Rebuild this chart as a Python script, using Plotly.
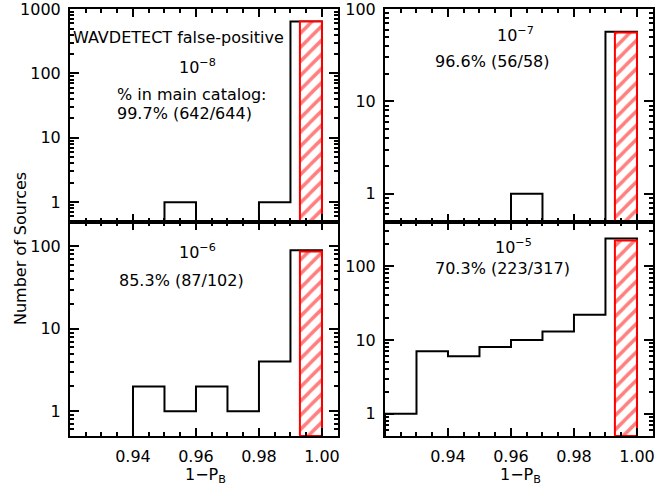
import numpy as np
import plotly.graph_objects as go

# ---------------- data ----------------
bin_edges = [0.92, 0.93, 0.94, 0.95, 0.96, 0.97, 0.98, 0.99, 1.00]
counts_tl = [0, 0, 0, 1, 0, 0, 1, 642]      # 1e-8
counts_tr = [0, 0, 0, 0, 1, 0, 0, 57]       # 1e-7
counts_bl = [0, 0, 2, 1, 2, 1, 4, 90]       # 1e-6
counts_br = [1, 7, 6, 8, 10, 13, 22, 237]   # 1e-5
matched = [642, 56, 87, 223]
matched_lo, matched_hi = 0.993, 1.000
thresholds = ["10<sup>\u22128</sup>", "10<sup>\u22127</sup>", "10<sup>\u22126</sup>", "10<sup>\u22125</sup>"]
fractions = ["99.7% (642/644)", "96.6% (56/58)", "85.3% (87/102)", "70.3% (223/317)"]
x_ticks = [0.94, 0.96, 0.98, 1.00]
x_ticktext = ["0.94", "0.96", "0.98", "1.00"]
y_ticks = [1, 10, 100, 1000]
y_ticktext = ["1", "10", "100", "1000"]
y_min = 0.5
y_max = [1000, 100, 200, 400]
x_range = [0.92, 1.005]

W, H = 670, 486
FONT = "DejaVu Sans"
FS = 16

# panel geometry (pixels)
xl = [70, 337.7]
xr = [385, 652.7]
yt = [9, 221.5]
yb = [221.5, 436]


def px2x(p):
    return p / W


def px2y(p):
    return 1 - p / H


panels = [
    dict(counts=counts_tl, xd=xl, yd=yt, bottom=False),
    dict(counts=counts_tr, xd=xr, yd=yt, bottom=False),
    dict(counts=counts_bl, xd=xl, yd=yb, bottom=True),
    dict(counts=counts_br, xd=xr, yd=yb, bottom=True),
]

fig = go.Figure()
floor = 1e-3
x_minor = list(np.round(np.arange(0.92, 1.0051, 0.005), 4))

for i, p in enumerate(panels):
    sfx = "" if i == 0 else str(i + 1)
    xa, ya = "x" + sfx, "y" + sfx
    # step histogram
    sx, sy = [bin_edges[0]], [floor]
    for k, c in enumerate(p["counts"]):
        v = c if c > 0 else floor
        sx += [bin_edges[k], bin_edges[k + 1]]
        sy += [v, v]
    sx.append(bin_edges[-1])
    sy.append(floor)
    fig.add_trace(go.Scatter(x=sx, y=sy, mode="lines", line=dict(color="black", width=2),
                             xaxis=xa, yaxis=ya, showlegend=False, hoverinfo="skip"))
    # matched (hatched) bar
    h = matched[i]
    fig.add_trace(go.Scatter(
        x=[matched_lo, matched_lo, matched_hi, matched_hi, matched_lo],
        y=[y_min, h, h, y_min, y_min],
        mode="lines", fill="toself", fillcolor="white",
        fillpattern=dict(shape="/", fgcolor="#ff0000", bgcolor="white", size=10, solidity=0.35),
        line=dict(color="red", width=2),
        xaxis=xa, yaxis=ya, showlegend=False, hoverinfo="skip"))

    ymax = y_max[i]
    y_minor = [m * 10 ** e for e in range(-1, 4) for m in range(2, 10) if y_min <= m * 10 ** e <= ymax]
    fig.update_layout(**{
        "xaxis" + sfx: dict(
            domain=[px2x(p["xd"][0]), px2x(p["xd"][1])], range=x_range, anchor=ya,
            showline=True, linecolor="black", linewidth=2, mirror="allticks",
            ticks="inside", ticklen=8, tickwidth=1.5, tickcolor="black",
            tickmode="array", tickvals=x_ticks, ticktext=x_ticktext,
            showticklabels=p["bottom"], ticklabelstandoff=5, automargin=False,
            ticklabeloverflow="allow",
            minor=dict(tickmode="array", tickvals=x_minor, ticks="inside", ticklen=4,
                       tickwidth=1.5, tickcolor="black", showgrid=False),
            showgrid=False, zeroline=False,
            tickfont=dict(family=FONT, size=FS, color="black")),
        "yaxis" + sfx: dict(
            domain=[px2y(p["yd"][1]), px2y(p["yd"][0])], type="log",
            range=[np.log10(y_min), np.log10(ymax) + 0.002], anchor=xa,
            showline=True, linecolor="black", linewidth=2, mirror="allticks",
            ticks="inside", ticklen=9, tickwidth=1.5, tickcolor="black",
            tickmode="array", tickvals=y_ticks, ticktext=y_ticktext, ticklabelstandoff=4,
            automargin=False, ticklabeloverflow="allow",
            minor=dict(tickmode="array", tickvals=y_minor, ticks="inside", ticklen=4,
                       tickwidth=1.5, tickcolor="black", showgrid=False),
            showgrid=False, zeroline=False,
            tickfont=dict(family=FONT, size=FS, color="black")),
    })

ann = []


def add_text(text, x, y, xanchor="center", size=FS):
    ann.append(dict(text=text, x=px2x(x), y=px2y(y), xref="paper", yref="paper",
                    xanchor=xanchor, yanchor="middle", showarrow=False,
                    font=dict(family=FONT, size=size, color="black")))


# panel texts
add_text("WAVDETECT false-positive", 178, 37)
add_text(thresholds[0], 197, 67)
add_text("% in main catalog:", 115, 94, xanchor="left")
add_text(fractions[0], 115, 113, xanchor="left")
add_text(thresholds[1], 515, 34)
add_text(fractions[1], 433, 62, xanchor="left")
add_text(thresholds[2], 197, 251)
add_text(fractions[2], 117, 280, xanchor="left")
add_text(thresholds[3], 513, 246)
add_text(fractions[3], 433, 268, xanchor="left")
# axis titles
add_text("1\u2212P<sub>B</sub>", 205, 475)
add_text("1\u2212P<sub>B</sub>", 520, 475)
ann.append(dict(text="Number of Sources", x=px2x(20), y=px2y(249), xref="paper", yref="paper",
                textangle=-90, showarrow=False, xanchor="center", yanchor="middle",
                font=dict(family=FONT, size=FS, color="black")))

fig.update_layout(width=W, height=H, margin=dict(l=0, r=0, t=0, b=0),
                  paper_bgcolor="white", plot_bgcolor="white", annotations=ann,
                  font=dict(family=FONT, size=FS, color="black"))

fig.write_html("out.html", config={"displayModeBar": False},
               post_script="document.body.style.margin='0';document.body.style.padding='0';")
